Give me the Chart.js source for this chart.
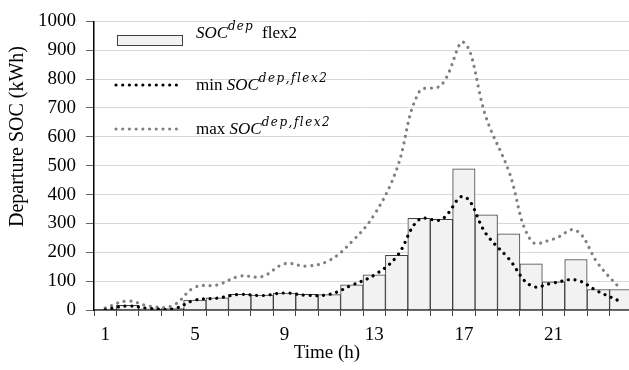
<!DOCTYPE html>
<html><head><meta charset="utf-8">
<script src="https://cdn.jsdelivr.net/npm/chart.js@4/dist/chart.umd.min.js"></script>
<style>
html,body{margin:0;padding:0;background:#fff;overflow:hidden}
#wrap{width:629px;height:370px;overflow:hidden;position:relative;background:#fff}
canvas{display:block}
</style></head><body>
<div id="wrap"><canvas id="c" width="640" height="370"></canvas></div>
<script>
// ---- data ----
const hours = ['1','2','3','4','5','6','7','8','9','10','11','12','13','14','15','16','17','18','19','20','21','22','23','24'];
const xTickLabels = ['1','5','9','13','17','21'];
const socDepFlex2 = [2,16,4,5,34,42,54,52,59,54,53,87,122,189,318,314,489,330,264,160,98,175,71,71];
const minSocDepFlex2 = [1,14,5,3,34,41,54,50,59,51,54,86,121,185,313,314,393,263,178,84,94,104,64,29];
const maxSocDepFlex2 = [7,31,13,15,79,87,117,116,160,152,172,237,330,487,755,780,927,665,482,240,246,276,159,72];
const yTickValues = [0,100,200,300,400,500,600,700,800,900,1000];
const xTitle = 'Time (h)';
const yTitle = 'Departure SOC (kWh)';

const SERIF = '"Liberation Serif", "Times New Roman", serif';
const DOT = [0.01, 6.7];

function drawRich(ctx, x, y, parts){
  let cx = x;
  for (const p of parts){
    ctx.font = p.font;
    ctx.letterSpacing = p.ls || '0px';
    ctx.fillStyle = '#000';
    ctx.textBaseline = 'alphabetic';
    ctx.textAlign = 'left';
    ctx.fillText(p.t, cx, y + (p.dy||0));
    cx += ctx.measureText(p.t).width;
  }
  ctx.letterSpacing = '0px';
}

const decor = {
  id:'decor',
  afterDraw(chart){
    const ctx = chart.ctx;
    ctx.save();
    const reg = '17px ' + SERIF;
    const ital = 'italic 17px ' + SERIF;
    const sup = 'italic 12px "DejaVu Serif", serif';
    // legend row 1: bar sample
    ctx.fillStyle = '#f2f2f2'; ctx.strokeStyle = '#404040'; ctx.lineWidth = 1;
    ctx.fillRect(117.5, 35.5, 65, 10); ctx.strokeRect(117.5, 35.5, 65, 10);
    drawRich(ctx, 196, 37.5, [
      {t:'SOC', font:ital},
      {t:'dep', font:sup, dy:-8, ls:'1px'},
      {t:'  flex2', font:reg}
    ]);
    // rows 2 and 3: dotted line samples
    ctx.setLineDash(DOT); ctx.lineCap = 'round'; ctx.lineWidth = 3.2;
    ctx.strokeStyle = '#000';
    ctx.beginPath(); ctx.moveTo(116, 85); ctx.lineTo(182, 85); ctx.stroke();
    ctx.strokeStyle = '#808080';
    ctx.beginPath(); ctx.moveTo(116, 129); ctx.lineTo(182, 129); ctx.stroke();
    ctx.setLineDash([]);
    drawRich(ctx, 196, 89.5, [
      {t:'min ', font:reg},
      {t:'SOC', font:ital},
      {t:'dep,flex2', font:sup, dy:-8, ls:'1.5px'}
    ]);
    drawRich(ctx, 196, 133.5, [
      {t:'max ', font:reg},
      {t:'SOC', font:ital},
      {t:'dep,flex2', font:sup, dy:-8, ls:'1.5px'}
    ]);
    // axis titles
    ctx.fillStyle = '#000';
    ctx.font = '19px ' + SERIF;
    ctx.textAlign = 'center'; ctx.textBaseline = 'alphabetic';
    ctx.fillText(xTitle, 327, 358);
    ctx.translate(18, 136.5);
    ctx.rotate(-Math.PI/2);
    ctx.font = '20px ' + SERIF;
    ctx.textBaseline = 'middle';
    ctx.fillText(yTitle, 0, 0);
    ctx.restore();
  }
};

new Chart(document.getElementById('c'), {
  type:'bar',
  data:{
    labels: hours,
    datasets:[
      {type:'line', label:'min', data:minSocDepFlex2, borderColor:'#000', borderWidth:3.2,
       borderDash:DOT, borderCapStyle:'round', pointRadius:0, tension:0.4, fill:false, order:1},
      {type:'line', label:'max', data:maxSocDepFlex2, borderColor:'#808080', borderWidth:3.2,
       borderDash:DOT, borderCapStyle:'round', pointRadius:0, tension:0.4, fill:false, order:2},
      {type:'bar', label:'flex2', data:socDepFlex2, backgroundColor:'#f2f2f2', borderColor:'#404040',
       borderWidth:1, barPercentage:1, categoryPercentage:1, order:3}
    ]
  },
  options:{
    responsive:false, animation:false, devicePixelRatio:1,
    layout:{padding:{left:0, right:8, top:15, bottom:0}},
    plugins:{legend:{display:false}, tooltip:{enabled:false}},
    scales:{
      x:{
        type:'category', offset:true,
        grid:{offset:true, drawOnChartArea:false, drawTicks:true, tickLength:6, tickColor:'#404040', lineWidth:1},
        border:{display:true, color:'#000', width:1.5},
        ticks:{autoSkip:false, maxRotation:0, minRotation:0, padding:8, color:'#000',
          font:{family:SERIF, size:19},
          callback:(v,i)=> xTickLabels.includes(hours[i]) ? hours[i] : ''},
        afterFit:(s)=>{ s.height = 60; }
      },
      y:{
        min:0, max:1000,
        afterBuildTicks:(s)=>{ s.ticks = yTickValues.map(v=>({value:v})); },
        ticks:{padding:10, color:'#000', font:{family:SERIF, size:19}, callback:(v)=> String(v)},
        grid:{color:'#d9d9d9', tickColor:'#666', tickLength:8, lineWidth:1},
        border:{color:'#000', width:1.5},
        afterFit:(s)=>{ s.width = 94; }
      }
    }
  },
  plugins:[decor]
});
</script>
</body></html>
